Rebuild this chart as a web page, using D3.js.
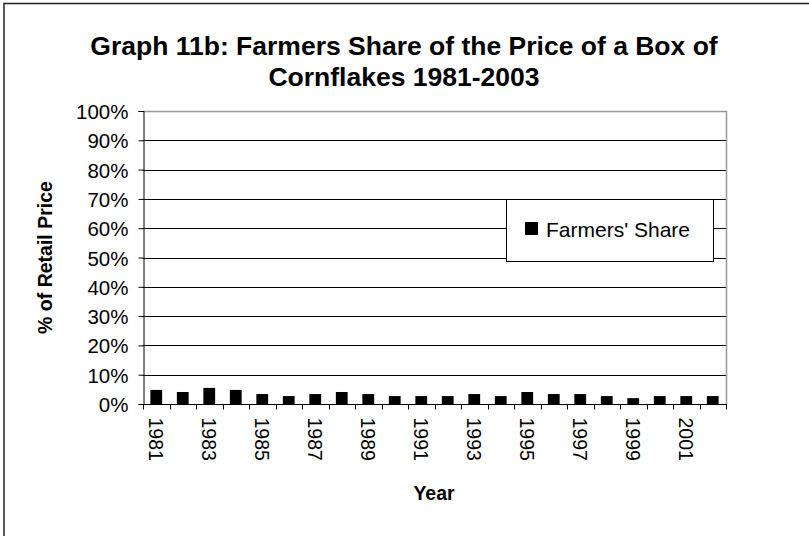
<!DOCTYPE html>
<html>
<head>
<meta charset="utf-8">
<script src="https://cdn.jsdelivr.net/npm/d3@7"></script>
<style>
  body { margin: 0; background: #fff; }
  svg { display: block; font-family: Arial, "Liberation Sans", sans-serif; }
</style>
</head>
<body>
<div id="chart"></div>
<script>
// data
const years = ["1981","1982","1983","1984","1985","1986","1987","1988","1989","1990","1991",
               "1992","1993","1994","1995","1996","1997","1998","1999","2000","2001","2002"];
const shares = [4.8, 4.1, 5.5, 4.8, 3.4, 2.7, 3.4, 4.1, 3.4, 2.7, 2.7,
                2.7, 3.4, 2.7, 4.1, 3.4, 3.4, 2.7, 2.0, 2.7, 2.7, 2.7];
const yTicks = [0, 10, 20, 30, 40, 50, 60, 70, 80, 90, 100];
const xLabels = ["1981","1983","1985","1987","1989","1991","1993","1995","1997","1999","2001"];
const titleLines = ["Graph 11b: Farmers Share of the Price of a Box of", "Cornflakes 1981-2003"];
const seriesName = "Farmers' Share";

const width = 809, height = 536;
const plot = { left: 143, right: 726, top: 111, bottom: 404 };

const svg = d3.select("#chart").append("svg")
  .attr("width", width)
  .attr("height", height);

// outer frame (only left/top visible in the picture)
svg.append("rect")
  .attr("x", 4).attr("y", 3.5)
  .attr("width", 830).attr("height", 560)
  .attr("fill", "none")
  .attr("stroke", "#222")
  .attr("stroke-width", 1.5);

// title
titleLines.forEach((t, i) => {
  svg.append("text")
    .attr("x", 404)
    .attr("y", 55 + i * 31)
    .attr("text-anchor", "middle")
    .attr("font-size", 26.5)
    .attr("font-weight", "bold")
    .text(t);
});

const x = d3.scaleBand()
  .domain(years)
  .range([plot.left, plot.right])
  .paddingInner(0.555)
  .paddingOuter(0.2775);

const xEdge = d3.scaleBand().domain(years).range([plot.left, plot.right]);

const y = d3.scaleLinear()
  .domain([0, 100])
  .range([plot.bottom, plot.top]);

// gridlines
svg.append("g")
  .selectAll("line")
  .data(yTicks.filter(d => d > 0 && d < 100))
  .join("line")
  .attr("x1", plot.left).attr("x2", plot.right)
  .attr("y1", d => Math.round(y(d)) + 0.5).attr("y2", d => Math.round(y(d)) + 0.5)
  .attr("stroke", "#000");

// plot frame top/right (gray)
svg.append("path")
  .attr("d", "M" + plot.left + "," + (plot.top + 0.5) + "H" + (plot.right + 0.5) + "V" + plot.bottom)
  .attr("fill", "none")
  .attr("stroke", "#999")
  .attr("stroke-width", 1.5);

// bars
svg.append("g")
  .selectAll("rect")
  .data(years)
  .join("rect")
  .attr("x", d => x(d))
  .attr("width", x.bandwidth())
  .attr("y", (d, i) => y(shares[i]))
  .attr("height", (d, i) => y(0) - y(shares[i]))
  .attr("fill", "#000");

// y axis
const yAxis = svg.append("g")
  .attr("transform", "translate(" + (plot.left + 0.5) + ",0)")
  .call(d3.axisLeft(y).tickValues(yTicks).tickSize(5).tickFormat(d => d + "%"));
yAxis.select(".domain").attr("stroke", "#000");
yAxis.selectAll(".tick line").attr("stroke", "#000");
yAxis.selectAll(".tick text")
  .attr("x", -15).attr("dy", null)
  .attr("dominant-baseline", "central")
  .attr("font-size", 20.5)
  .attr("font-family", "Arial, 'Liberation Sans', sans-serif")
  .attr("fill", "#000");

// x axis: ticks on category edges
const xAxis = svg.append("g")
  .attr("transform", "translate(0," + (plot.bottom + 0.5) + ")");
xAxis.append("line")
  .attr("x1", plot.left).attr("x2", plot.right + 1)
  .attr("stroke", "#000");
xAxis.selectAll(".edge")
  .data(years.concat(["end"]))
  .join("line")
  .attr("class", "edge")
  .attr("x1", (d, i) => Math.round(i < years.length ? xEdge(d) : plot.right) + 0.5)
  .attr("x2", (d, i) => Math.round(i < years.length ? xEdge(d) : plot.right) + 0.5)
  .attr("y1", 0).attr("y2", 5)
  .attr("stroke", "#000");

xAxis.selectAll(".lbl")
  .data(xLabels)
  .join("text")
  .attr("class", "lbl")
  .attr("transform", d => "translate(" + (xEdge(d) + xEdge.bandwidth() / 2) + ",13) rotate(90)")
  .attr("dominant-baseline", "central")
  .attr("font-size", 19.5)
  .text(d => d);

// axis titles
svg.append("text")
  .attr("x", 434).attr("y", 500)
  .attr("text-anchor", "middle")
  .attr("font-size", 19.5)
  .attr("font-weight", "bold")
  .text("Year");

svg.append("text")
  .attr("transform", "translate(45," + ((plot.top + plot.bottom) / 2) + ") rotate(-90)")
  .attr("text-anchor", "middle")
  .attr("dominant-baseline", "central")
  .attr("font-size", 19.5)
  .attr("font-weight", "bold")
  .text("% of Retail Price");

// legend
const legend = svg.append("g").attr("transform", "translate(506,199)");
legend.append("rect")
  .attr("x", 0.5).attr("y", 0.5)
  .attr("width", 207).attr("height", 62)
  .attr("fill", "#fff")
  .attr("stroke", "#000");
legend.append("rect")
  .attr("x", 19).attr("y", 23)
  .attr("width", 13).attr("height", 13)
  .attr("fill", "#000");
legend.append("text")
  .attr("x", 40).attr("y", 30)
  .attr("dominant-baseline", "central")
  .attr("font-size", 21)
  .text(seriesName);
</script>
</body>
</html>
